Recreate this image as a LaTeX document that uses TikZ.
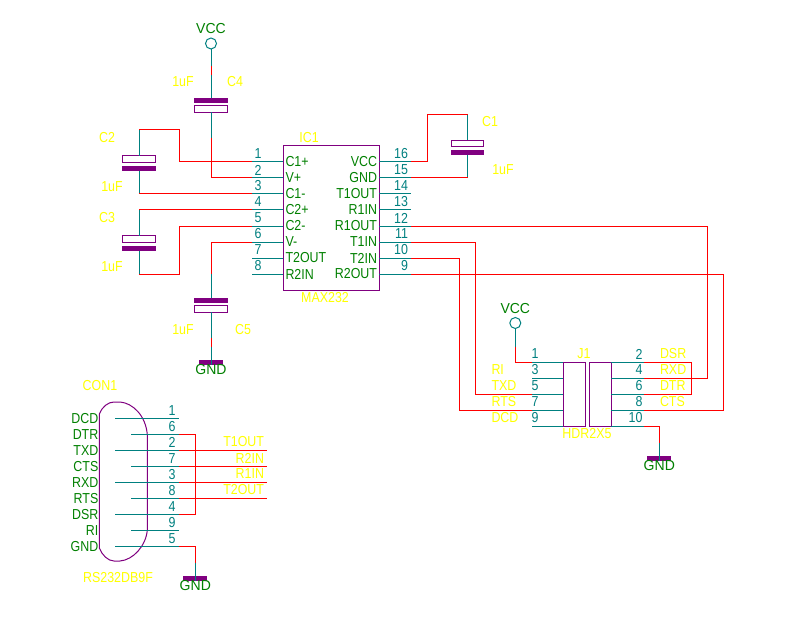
\documentclass[tikz,border=0pt]{standalone}
\usepackage{fontspec}
\setmainfont[FakeStretch=0.86]{Liberation Sans}
\newfontfamily\railfont[FakeStretch=0.97]{Liberation Sans}
\definecolor{wirered}{RGB}{255,0,0}
\definecolor{pinteal}{RGB}{0,128,128}
\definecolor{bodypurple}{RGB}{128,0,128}
\definecolor{textgreen}{RGB}{0,128,0}
\definecolor{labelyellow}{RGB}{255,255,0}
\tikzset{
  wire/.style={draw=wirered,line width=1bp},
  lead/.style={draw=pinteal,line width=1bp},
  body/.style={draw=bodypurple,line width=1bp},
  txt/.style={font=\fontsize{14.5}{15}\selectfont,inner sep=0pt,outer sep=0pt},
  pinname/.style={txt,text=textgreen},
  railname/.style={font=\railfont\fontsize{14.5}{15}\selectfont,inner sep=0pt,outer sep=0pt,text=textgreen},
  pinnum/.style={txt,text=pinteal},
  lab/.style={txt,text=labelyellow},
  capbox/.style={draw=bodypurple,line width=1bp,fill=white,minimum width=32.5bp,minimum height=6.5bp,inner sep=0pt,outer sep=0pt},
  capplate/.style={fill=bodypurple,minimum width=33.5bp,minimum height=5bp,inner sep=0pt,outer sep=0pt},
  gndbar/.style={fill=bodypurple,minimum width=24bp,minimum height=4.6bp,inner sep=0pt,outer sep=0pt},
  vccring/.style={circle,draw=pinteal,line width=1bp,fill=white,minimum size=11bp,inner sep=0pt,outer sep=0pt},
  hbox/.style={draw=bodypurple,line width=1bp,inner sep=0pt,outer sep=0pt}
}
\begin{document}
\begin{tikzpicture}[x=1bp,y=-1bp]
\useasboundingbox (0,0) rectangle (800,618);
\fill[white] (0,0) rectangle (800,618);

% ---------- IC1 ----------
\node[hbox,minimum width=96bp,minimum height=144bp] (ic) at (331,218) {};
\foreach \n/\y/\t in {1/162/C1+,2/178/V+,3/194/C1-,4/210/C2+,5/226/C2-,6/242/V-,7/258/T2OUT,8/274/R2IN}{
  \coordinate (icl\n) at (252,\y);
  \coordinate (icli\n) at (283,\y);
  \draw[lead] (icl\n) -- (icli\n);
  \node[pinnum,anchor=west] (icnum\n) at (254.5,\y-8) {\n};
  \node[pinname,anchor=west] (icname\n) at (285.5,\y) {\t};
}
\foreach \n/\y/\t in {16/162/VCC,15/178/GND,14/194/T1OUT,13/210/R1IN,12/226/R1OUT,11/242/T1IN,10/258/T2IN,9/274/R2OUT}{
  \coordinate (icr\n) at (411,\y);
  \coordinate (icri\n) at (379,\y);
  \draw[lead] (icri\n) -- (icr\n);
  \node[pinnum,anchor=east] (icnum\n) at (408,\y-8) {\n};
  \node[pinname,anchor=east] (icname\n) at (377,\y) {\t};
}
\node[lab] (iclabel) at (309,138) {IC1};
\node[lab] (icvalue) at (325,298) {MAX232};

% ---------- C4 ----------
\node[vccring] (vcc1) at (211,43.5) {};
\node[railname] (vcc1t) at (211,28.5) {VCC};
\node[capplate] (c4p) at (211,100.5) {};
\node[capbox] (c4b) at (211,109.2) {};
\coordinate (c4a) at (211,66);
\coordinate (c4a2) at (211,75);
\coordinate (c4c) at (211,138);
\draw[lead] (vcc1) -- (c4a);
\draw[wire] (c4a) -- (c4a2);
\draw[lead] (c4a2) -- (c4p.north);
\draw[lead] (c4b.south) -- (c4c);
\draw[wire] (c4c) |- (icl2);
\node[lab] (c4t) at (235,82) {C4};
\node[lab] (c4v) at (183,82) {1uF};

% ---------- C2 ----------
\node[capbox] (c2b) at (139,159.2) {};
\node[capplate] (c2p) at (139,168.5) {};
\coordinate (c2a) at (139,130);
\coordinate (c2c) at (139,194);
\coordinate (c2k) at (179.5,130);
\draw[lead] (c2a) -- (c2b.north);
\draw[lead] (c2p.south) -- (c2c);
\draw[wire] (c2a) -- (c2k) |- (icl1);
\draw[wire] (c2c) -- (icl3);
\node[lab] (c2t) at (107,138) {C2};
\node[lab] (c2v) at (112,187) {1uF};

% ---------- C3 ----------
\node[capbox] (c3b) at (139,239.2) {};
\node[capplate] (c3p) at (139,248.5) {};
\coordinate (c3a) at (139,210);
\coordinate (c3c) at (139,274);
\coordinate (c3k) at (179.5,274);
\draw[lead] (c3a) -- (c3b.north);
\draw[lead] (c3p.south) -- (c3c);
\draw[wire] (c3a) -- (icl4);
\draw[wire] (c3c) -- (c3k) |- (icl5);
\node[lab] (c3t) at (107,218) {C3};
\node[lab] (c3v) at (112,267) {1uF};

% ---------- C5 ----------
\node[capplate] (c5p) at (211,300.5) {};
\node[capbox] (c5b) at (211,309.2) {};
\coordinate (c5a) at (211,274);
\coordinate (c5c) at (211,338);
\coordinate (c5c2) at (211,347);
\node[gndbar] (gnd1) at (211,362.3) {};
\node[railname,fill=none] (gnd1t) at (211,370) {GND};
\draw[wire] (icl6) -| (c5a);
\draw[lead] (c5a) -- (c5p.north);
\draw[lead] (c5b.south) -- (c5c);
\draw[wire] (c5c) -- (c5c2);
\draw[lead] (c5c2) -- (gnd1.south);
\node[lab] (c5t) at (243,330) {C5};
\node[lab] (c5v) at (183,330) {1uF};

% ---------- C1 ----------
\node[capbox] (c1b) at (467.5,143.4) {};
\node[capplate] (c1p) at (467.5,152.5) {};
\coordinate (c1a) at (467.5,114.5);
\coordinate (c1c) at (467.5,178);
\coordinate (c1k) at (427.5,114.5);
\draw[lead] (c1a) -- (c1b.north);
\draw[lead] (c1p.south) -- (c1c);
\draw[wire] (icr16) -| (c1k) -- (c1a);
\draw[wire] (icr15) -- (c1c);
\node[lab] (c1t) at (490,122) {C1};
\node[lab] (c1v) at (503,170) {1uF};

% ---------- J1 ----------
\node[hbox,minimum width=22.5bp,minimum height=64bp] (j1l) at (574.5,394.3) {};
\node[hbox,minimum width=22bp,minimum height=64bp] (j1r) at (600.3,394.3) {};
\foreach \n/\y in {1/362,3/378,5/394,7/410,9/426}{
  \coordinate (jl\n) at (532,\y);
  \coordinate (jli\n) at (563.3,\y);
  \draw[lead] (jl\n) -- (jli\n);
  \node[pinnum,anchor=west] (jnum\n) at (531.5,\y-8) {\n};
}
\foreach \n/\y in {2/362,4/378,6/394,8/410,10/426}{
  \coordinate (jr\n) at (643.5,\y);
  \coordinate (jri\n) at (611.3,\y);
  \draw[lead] (jri\n) -- (jr\n);
  \node[pinnum,anchor=east] (jnum\n) at (642.5,\y-8) {\n};
}
\node[lab] (j1t) at (584,354) {J1};
\node[lab] (j1v) at (587,434) {HDR2X5};
\foreach \t/\y in {RI/370,TXD/386,RTS/402,DCD/418}{
  \node[lab,anchor=west] (jlab\t) at (491.5,\y) {\t};
}
\foreach \t/\y in {DSR/354,RXD/370,DTR/386,CTS/402}{
  \node[lab,anchor=west] (jlab\t) at (660,\y) {\t};
}
\node[vccring] (vcc2) at (515.3,323) {};
\node[railname] (vcc2t) at (515.3,308.5) {VCC};
\coordinate (vcc2a) at (515.3,346.5);
\draw[lead] (vcc2) -- (vcc2a);
\draw[wire] (vcc2a) |- (jl1);
\node[gndbar] (gnd2) at (659.3,458.3) {};
\node[railname] (gnd2t) at (659.3,465.7) {GND};
\coordinate (gnd2a) at (659.3,443);
\draw[wire] (jr10) -| (gnd2a);
\draw[lead] (gnd2a) -- (gnd2.south);
\coordinate (k1) at (691.8,362);
\coordinate (k2) at (707.6,226);
\coordinate (k3) at (723.7,274);
\coordinate (k4) at (475.3,242);
\coordinate (k5) at (459.6,258);
\draw[wire] (jr2) -- (k1) |- (jr6);
\draw[wire] (icr12) -- (k2) |- (jr4);
\draw[wire] (icr9) -- (k3) |- (jr8);
\draw[wire] (icr11) -- (k4) |- (jl5);
\draw[wire] (icr10) -- (k5) |- (jl7);

% ---------- CON1 ----------
\draw[body] (99.3,414) .. controls (102,407) and (108,402) .. (114,402)
  -- (120,402) .. controls (133,403) and (146,416) .. (147.3,435)
  -- (147.3,530) .. controls (146,546) and (133,560) .. (120,561)
  -- (114,561) .. controls (108,561) and (102,555) .. (99.3,548) -- cycle;
\foreach \n/\y/\xs in {1/418.3/115,6/434.3/131,2/450.3/115,7/466.3/131,3/482.3/115,8/498.3/131,4/514.3/115,9/530.3/131,5/546.3/115}{
  \coordinate (cs\n) at (\xs,\y);
  \coordinate (ce\n) at (179,\y);
  \draw[lead] (cs\n) -- (ce\n);
  \node[pinnum] (cnum\n) at (172,\y-8) {\n};
}
\foreach \t/\y in {DCD/418.3,DTR/434.3,TXD/450.3,CTS/466.3,RXD/482.3,RTS/498.3,DSR/514.3,RI/530.3,GND/546.3}{
  \node[pinname,anchor=east] (cname\t) at (98.3,\y) {\t};
}
\node[lab] (con1t) at (100,386) {CON1};
\node[lab] (con1v) at (118,578) {RS232DB9F};
\foreach \n/\y in {2/450.3,7/466.3,3/482.3,8/498.3}{
  \coordinate (cout\n) at (266.7,\y);
  \draw[wire] (ce\n) -- (cout\n);
}
\foreach \t/\y in {T1OUT/442,R2IN/458,R1IN/474,T2OUT/490}{
  \node[lab,anchor=east] (clab\t) at (264,\y) {\t};
}
\coordinate (cj) at (195.3,434.3);
\draw[wire] (ce6) -- (cj) |- (ce4);
\node[gndbar] (gnd3) at (195.3,578.3) {};
\node[railname] (gnd3t) at (195.3,585.7) {GND};
\coordinate (gnd3a) at (195.3,563);
\draw[wire] (ce5) -| (gnd3a);
\draw[lead] (gnd3a) -- (gnd3.south);
\end{tikzpicture}
\end{document}
